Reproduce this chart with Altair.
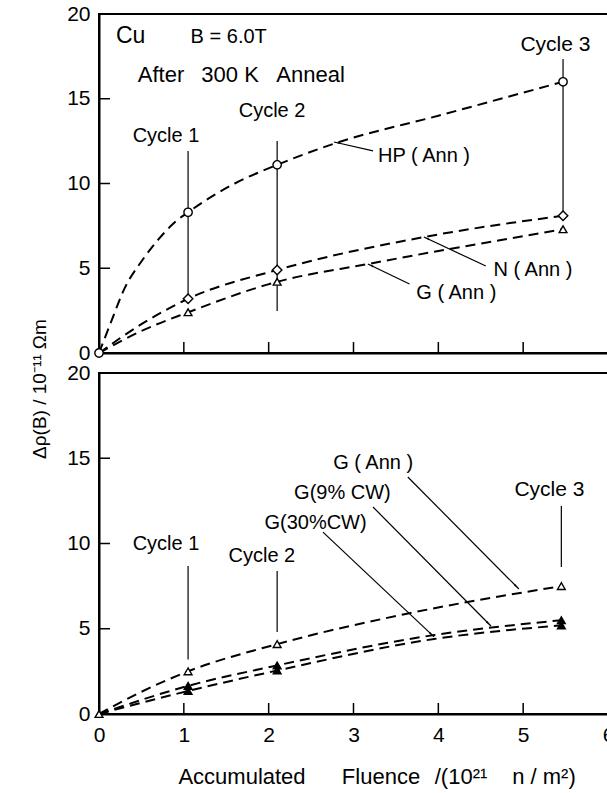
import math
import altair as alt
import pandas as pd

FONT = "Liberation Sans"
W = 509
H_TOP = 339
H_BOT = 341
X_MAX = 6
Y_MAX = 20

# ---------------- data ----------------
x_ticks = [1, 2, 3, 4, 5]
y_ticks = [5, 10, 15]
x_labels = [0, 1, 2, 3, 4, 5, 6]
y_labels = [0, 5, 10, 15, 20]

# top panel: measured points (cycles 1-3, plus origin)
top_x = [0, 1.05, 2.1, 5.47]
hp_y = [0, 8.3, 11.1, 16.0]
n_y = [0, 3.2, 4.9, 8.1]
g_top_y = [0, 2.4, 4.2, 7.3]

# top panel: dashed fit curves as drawn
hp_curve_x = [0, 0.14, 0.30, 0.50, 0.70, 0.89, 1.05, 1.6, 2.1, 2.77, 4.0, 5.47]
hp_curve_y = [0, 1.8, 3.8, 5.4, 6.7, 7.7, 8.3, 10.0, 11.1, 12.35, 14.0, 16.0]
n_curve_x = [0, 0.5, 1.05, 2.1, 3.83, 5.47]
n_curve_y = [0, 1.7, 3.2, 4.9, 6.84, 8.1]
g_top_curve_x = [0, 0.5, 1.05, 2.1, 3.17, 5.47]
g_top_curve_y = [0, 1.3, 2.4, 4.2, 5.25, 7.3]

# bottom panel: measured points
bot_x = [0, 1.05, 2.1, 5.45]
gann_y = [0, 2.5, 4.1, 7.5]
g9_y = [0, 1.65, 2.85, 5.5]
g30_y = [0, 1.35, 2.55, 5.2]

# bottom panel: dashed fit curves as drawn
gann_curve_x = [0, 0.5, 1.05, 2.1, 3.6, 5.45]
gann_curve_y = [0, 1.3, 2.5, 4.1, 5.85, 7.5]
g9_curve_x = [0, 1.05, 2.1, 3.95, 5.45]
g9_curve_y = [0, 1.65, 2.85, 4.63, 5.5]
g30_curve_x = [0, 1.05, 2.1, 3.95, 5.45]
g30_curve_y = [0, 1.35, 2.55, 4.4, 5.2]

# annotations (data units): text, x, y, align, font size
top_texts = [
    ("Cu", 0.20, 18.7, "left", 23),
    ("B = 6.0T", 1.08, 18.65, "left", 20),
    ("After", 0.731, 16.4, "center", 22),
    ("300 K", 1.545, 16.4, "center", 22),
    ("Anneal", 2.494, 16.4, "center", 22),
    ("Cycle 1", 0.79, 12.8, "center", 20),
    ("Cycle 2", 2.04, 14.3, "center", 20),
    ("Cycle 3", 5.38, 18.2, "center", 21),
    ("HP ( Ann )", 3.29, 11.6, "left", 20),
    ("N ( Ann )", 4.65, 4.9, "left", 20),
    ("G ( Ann )", 3.74, 3.54, "left", 20),
]
top_cycle_lines = [(1.05, 11.92, 3.2), (2.1, 12.51, 2.48), (5.47, 17.35, 8.1)]
top_leaders = [  # tail x, tail y, tip x, tip y
    (3.23, 11.92, 2.77, 12.45),
    (4.56, 5.13, 3.83, 6.84),
    (3.66, 4.07, 3.17, 5.25),
]

bot_texts = [
    ("G ( Ann )", 2.76, 14.7, "left", 20),
    ("G(9% CW)", 2.30, 12.96, "left", 20),
    ("G(30%CW)", 1.95, 11.2, "left", 20),
    ("Cycle 1", 0.79, 9.97, "center", 20),
    ("Cycle 2", 1.92, 9.27, "center", 20),
    ("Cycle 3", 5.31, 13.14, "center", 21),
]
bot_cycle_lines = [(1.05, 8.68, 3.2), (2.1, 8.39, 4.81), (5.45, 12.2, 8.62)]
bot_leaders = [
    (3.64, 13.9, 4.95, 7.33),
    (3.23, 12.14, 4.62, 5.16),
    (2.64, 10.67, 3.95, 4.52),
]

Y_TITLE = "Δρ(B) / 10⁻¹¹ Ωm"
X_TITLE_PARTS = ["Accumulated", "Fluence", "/(10²¹", "n / m²)"]
X_TITLE_POS = [143, 282, 362, 445]  # pixel centres relative to plot left

# ---------------- helpers ----------------
xscale = alt.Scale(domain=[0, X_MAX], nice=False, zero=False)
yscale = alt.Scale(domain=[0, Y_MAX], nice=False, zero=False)


def x_axis(show_labels):
    return alt.Axis(values=x_labels, labels=show_labels, ticks=False, tickSize=0,
                    grid=False, title=None, domainColor="black", domainWidth=2,
                    labelFont=FONT, labelFontSize=21, labelColor="black",
                    labelPadding=10, labelFlush=False, labelOverlap=False)


y_axis = alt.Axis(values=y_labels, ticks=False, tickSize=0, grid=False, title=None,
                  domainColor="black", domainWidth=2, labelFont=FONT, labelFontSize=21,
                  labelColor="black", labelPadding=9, labelOverlap=False, labelFlush=False)


def X(field, show_labels):
    return alt.X(field, type="quantitative", scale=xscale, axis=x_axis(show_labels))


def Y(field):
    return alt.Y(field, type="quantitative", scale=yscale, axis=y_axis)


def curve(xs, ys, show_labels):
    df = pd.DataFrame({"x": xs, "y": ys})
    return alt.Chart(df).mark_line(color="black", strokeWidth=2, strokeDash=[10, 6],
                                   interpolate="monotone").encode(
        x=X("x", show_labels), y=Y("y"))


def points(xs, ys, shape, filled, size, show_labels):
    df = pd.DataFrame({"x": xs, "y": ys})
    return alt.Chart(df).mark_point(shape=shape, filled=True,
                                    fill="black" if filled else "white",
                                    stroke="black", strokeWidth=1.4, size=size,
                                    opacity=1).encode(x=X("x", show_labels), y=Y("y"))


def texts(items, show_labels):
    layers = []
    for align in ("left", "center"):
        for fs in sorted(set(t[4] for t in items)):
            rows = [t for t in items if t[3] == align and t[4] == fs]
            if not rows:
                continue
            df = pd.DataFrame({"t": [r[0] for r in rows], "x": [r[1] for r in rows],
                               "y": [r[2] for r in rows]})
            layers.append(alt.Chart(df).mark_text(align=align, baseline="middle", font=FONT,
                                                  fontSize=fs, color="black").encode(
                x=X("x", show_labels), y=Y("y"), text="t:N"))
    return layers


def cycle_rules(items, show_labels):
    df = pd.DataFrame({"x": [c[0] for c in items], "y": [c[1] for c in items],
                       "y2": [c[2] for c in items]})
    return alt.Chart(df).mark_rule(color="black", strokeWidth=1.2).encode(
        x=X("x", show_labels), y=Y("y"), y2="y2:Q")


def leaders(items, height, show_labels, head_size):
    df = pd.DataFrame({"x": [c[0] for c in items], "y": [c[1] for c in items],
                       "x2": [c[2] for c in items], "y2": [c[3] for c in items]})
    rules = alt.Chart(df).mark_rule(color="black", strokeWidth=1.2).encode(
        x=X("x", show_labels), y=Y("y"), x2="x2:Q", y2="y2:Q")
    px = W / X_MAX
    py = height / Y_MAX
    hx, hy, ha = [], [], []
    for (x1, y1, x2, y2) in items:
        dx = (x2 - x1) * px
        dy = -(y2 - y1) * py
        L = math.hypot(dx, dy)
        ux, uy = dx / L, dy / L
        back = 4.0
        hx.append(x2 - ux * back / px)
        hy.append(y2 + uy * back / py)
        ha.append(math.degrees(math.atan2(dx, -dy)) % 360)
    hdf = pd.DataFrame({"x": hx, "y": hy, "a": ha})
    heads = alt.Chart(hdf).mark_point(shape="wedge", filled=True, color="black",
                                      size=head_size, opacity=1).encode(
        x=X("x", show_labels), y=Y("y"), angle=alt.Angle("a:Q", scale=None))
    return [rules, heads]


def tick_marks(height, show_labels):
    xt = alt.Chart(pd.DataFrame({"v": x_ticks})).mark_rule(color="black", strokeWidth=1.5).encode(
        x=X("v", show_labels), y=alt.value(height), y2=alt.value(height - 11))
    yt = alt.Chart(pd.DataFrame({"v": y_ticks})).mark_rule(color="black", strokeWidth=1.5).encode(
        y=Y("v"), x=alt.value(0), x2=alt.value(11))
    return [xt, yt]


# ---------------- top panel ----------------
top_layers = [
    curve(hp_curve_x, hp_curve_y, False),
    curve(n_curve_x, n_curve_y, False),
    curve(g_top_curve_x, g_top_curve_y, False),
    cycle_rules(top_cycle_lines, False),
    *leaders(top_leaders, H_TOP, False, 40),
    points(top_x, hp_y, "circle", False, 70, False),
    points(top_x[1:], n_y[1:], "diamond", False, 90, False),
    points(top_x[1:], g_top_y[1:], "triangle-up", False, 60, False),
    *texts(top_texts, False),
    *tick_marks(H_TOP, False),
]
top = alt.layer(*top_layers).properties(width=W, height=H_TOP)

# ---------------- bottom panel ----------------
ytitle = alt.Chart(pd.DataFrame({"t": [Y_TITLE]})).mark_text(
    angle=270, align="center", baseline="middle", font=FONT, fontSize=19, color="black").encode(
    text="t:N", x=alt.value(-59), y=alt.value(16))
xtitle = alt.Chart(pd.DataFrame({"t": X_TITLE_PARTS, "px": X_TITLE_POS})).mark_text(
    align="center", baseline="middle", font=FONT, fontSize=22, color="black").encode(
    text="t:N", x=alt.X("px:Q", scale=None), y=alt.value(404))

bot_layers = [
    curve(gann_curve_x, gann_curve_y, True),
    curve(g9_curve_x, g9_curve_y, True),
    curve(g30_curve_x, g30_curve_y, True),
    cycle_rules(bot_cycle_lines, True),
    *leaders(bot_leaders, H_BOT, True, 60),
    points(bot_x, gann_y, "triangle-up", False, 60, True),
    points(bot_x[1:], g9_y[1:], "triangle-up", True, 60, True),
    points(bot_x[1:], g30_y[1:], "triangle-up", True, 60, True),
    *texts(bot_texts, True),
    *tick_marks(H_BOT, True),
    ytitle,
    xtitle,
]
bottom = alt.layer(*bot_layers).properties(width=W, height=H_BOT)

chart = alt.vconcat(top, bottom, spacing=20, bounds="flush").properties(
    padding={"left": 29, "top": 2, "right": -8, "bottom": 0},
    background="white",
).configure_view(stroke="black", strokeWidth=2)

chart.save("out.html", embed_options={"renderer": "svg", "actions": False})
